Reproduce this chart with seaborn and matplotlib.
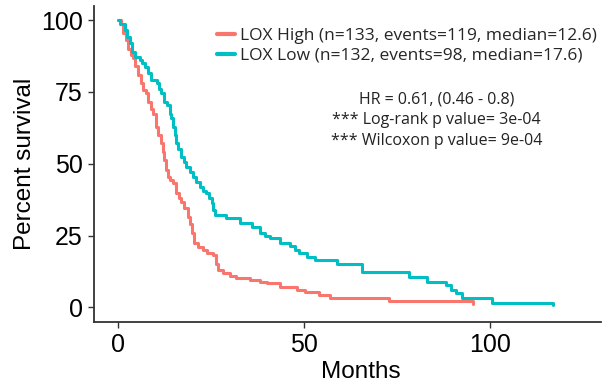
import numpy as np
import pandas as pd
import matplotlib
matplotlib.use("Agg")
import matplotlib.pyplot as plt
import seaborn as sns

# ---- data ----
high_months = [0, 0.8, 1.3, 2.0, 2.6, 3.3, 4.0, 4.6, 5.3, 6.0, 6.7, 7.4, 8.0, 8.8, 9.4,
               10.2, 10.8, 11.5, 12.0, 12.4, 12.8, 13.3, 14.0, 14.7, 15.6, 16.3, 16.9,
               17.8, 18.7, 19.3, 19.9, 20.5, 21.5, 22.8, 24.0, 25.5, 26.2, 26.8, 28.2,
               30.0, 31.8, 35.4, 38.0, 39.9, 43.5, 48.0, 50.3, 53.9, 57.0, 72.8, 95.4]
high_surv = [100, 98.5, 95.4, 93.0, 90.1, 88.0, 86.7, 84.0, 80.9, 78.0, 75.6, 74.5, 71.6,
             69.0, 67.5, 62.9, 60.0, 57.1, 54.0, 51.3, 48.0, 45.5, 44.5, 43.2, 39.7, 38.0,
             36.8, 34.5, 31.5, 29.0, 26.0, 22.3, 21.0, 19.9, 19.0, 18.2, 15.0, 13.0, 11.8,
             10.9, 10.1, 9.5, 9.0, 8.4, 7.2, 6.0, 5.4, 4.3, 3.1, 2.2, 1.0]

low_months = [0, 0.6, 1.7, 2.4, 3.1, 3.8, 4.4, 5.8, 6.4, 7.1, 8.0, 8.9, 10.3, 11.0, 11.6,
              12.4, 13.0, 13.8, 14.3, 14.7, 15.2, 15.6, 16.2, 16.9, 17.6, 18.3, 19.2, 20.1,
              21.0, 21.9, 22.8, 23.7, 24.4, 25.1, 25.5, 25.9, 29.0, 32.7, 35.9, 38.1, 39.5,
              40.8, 43.5, 46.2, 47.6, 48.5, 50.7, 53.0, 58.8, 65.6, 78.2, 83.1, 88.1, 89.5,
              90.8, 92.6, 100.6, 116.9]
low_surv = [100, 98.5, 96.5, 94.0, 91.9, 89.0, 87.2, 86.2, 85.0, 83.7, 81.5, 79.1, 78.0,
            76.0, 74.5, 71.5, 70.4, 67.5, 66.0, 62.9, 60.0, 57.1, 55.0, 52.4, 50.5, 48.9,
            47.0, 45.5, 43.5, 42.0, 40.5, 39.7, 38.0, 36.2, 34.0, 32.1, 31.0, 29.2, 28.1,
            25.8, 24.9, 24.0, 22.3, 21.4, 19.9, 18.8, 17.6, 16.5, 15.0, 12.2, 10.6, 9.0,
            7.8, 6.2, 4.9, 3.3, 1.6, 0.8]

group_labels = ["LOX High (n=133, events=119, median=12.6)",
                "LOX Low (n=132, events=98, median=17.6)"]
group_colors = ["#F8766D", "#00BFC4"]
stats_lines = ["HR = 0.61, (0.46 - 0.8)",
               "*** Log-rank p value= 3e-04",
               "*** Wilcoxon p value= 9e-04"]
x_ticks = [0, 50, 100]
y_ticks = [0, 25, 50, 75, 100]

df = pd.concat([
    pd.DataFrame({"Months": high_months, "Percent survival": high_surv, "group": group_labels[0]}),
    pd.DataFrame({"Months": low_months, "Percent survival": low_surv, "group": group_labels[1]}),
], ignore_index=True)

sns.set_theme(style="white")
plt.rcParams["font.family"] = ["Liberation Sans", "DejaVu Sans"]

fig = plt.figure(figsize=(6.15, 3.89), dpi=100)
ax = fig.add_axes([0.153, 0.173, 0.825, 0.812])

sns.lineplot(data=df, x="Months", y="Percent survival", hue="group",
             hue_order=group_labels, palette=group_colors, estimator=None,
             drawstyle="steps-post", linewidth=2.2, legend=False, ax=ax)

ax.set_xlim(-6.5, 130)
ax.set_ylim(-5, 105)
ax.set_xticks(x_ticks)
ax.set_yticks(y_ticks)
ax.tick_params(axis="both", labelsize=18, length=4, width=1.0, color="#333333",
               direction="out", pad=4, labelcolor="black")
ax.tick_params(left=True, bottom=True)
for s in ["top", "right"]:
    ax.spines[s].set_visible(False)
for s in ["left", "bottom"]:
    ax.spines[s].set_color("#333333")
    ax.spines[s].set_linewidth(1.3)
ax.set_xlabel("Months", fontsize=17.5, color="black")
ax.xaxis.set_label_coords(0.525, -0.125)
ax.set_ylabel("Percent survival", fontsize=17.5, labelpad=4, color="black")

handles = [plt.Line2D([], [], color=c, linewidth=3) for c in group_colors]
ax.legend(handles, group_labels, loc="upper left", bbox_to_anchor=(0.219, 0.97),
          frameon=False, prop={"family": "Open Sans", "size": 12.5},
          handlelength=1.0, handletextpad=0.3, labelspacing=0.22, borderaxespad=0.3)

for i, line in enumerate(stats_lines):
    ax.text(0.675, 0.705 - i * 0.067, line, transform=ax.transAxes, ha="center",
            va="center", fontsize=11.5, family="Open Sans", color="#222222")

fig.savefig("out.png", dpi=100)
